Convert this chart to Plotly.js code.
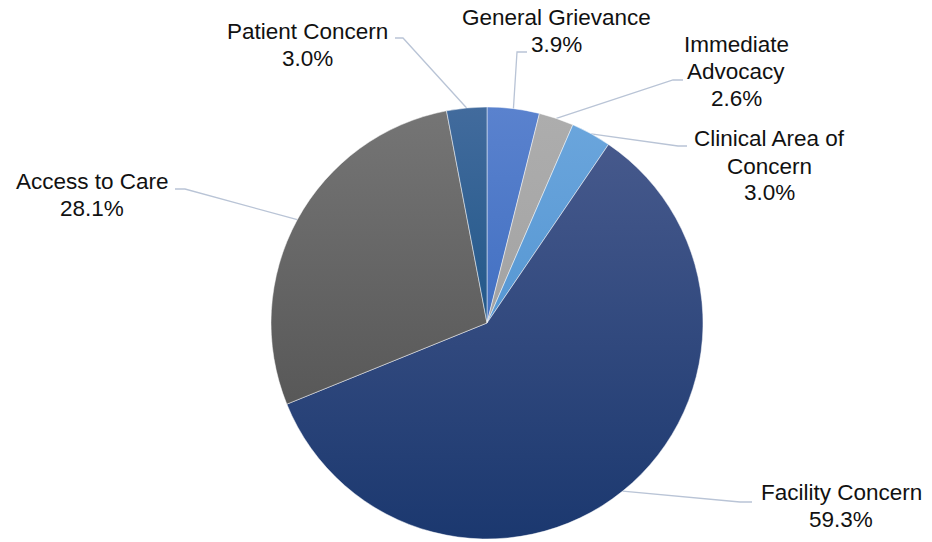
<!DOCTYPE html>
<html>
<head>
<meta charset="utf-8">
<script src="https://cdn.plot.ly/plotly-3.0.1.min.js"></script>
<style>html,body{margin:0;padding:0;background:#fff;}#chart{width:932px;height:542px;}</style>
</head>
<body>
<div id="chart"></div>
<script>
// ---- data ----
var categories = ["General Grievance", "Immediate Advocacy", "Clinical Area of Concern", "Facility Concern", "Access to Care", "Patient Concern"];
var values = [3.9, 2.6, 3.0, 59.3, 28.1, 3.0];
var labelLines = [["General Grievance"], ["Immediate", "Advocacy"], ["Clinical Area of", "Concern"], ["Facility Concern"], ["Access to Care"], ["Patient Concern"]];

// ---- styling ----
var W = 932, H = 542;
var cx = 487, cy = 323, R = 216;
var gradTop = ["#5A82CE", "#ADADAD", "#6AA5DC", "#46598C", "#757575", "#426B9D"];
var gradBot = ["#4270C2", "#A3A3A3", "#5697D3", "#1B386F", "#585858", "#225889"];
var flat = ["#4D78C8", "#A8A8A8", "#5F9ED7", "#2A457D", "#666666", "#305F94"];
// label first-line centres (px), line spacing, and leader-line label-side points (px)
var labelPos = [[556, 18], [736, 45], [769, 139], [841, 492], [92, 181], [307, 32]];
var lineGap = 27;
var leaderStart = [[[527, 52], [517, 52]], [[683, 80], [673, 80]], [[687, 146], [678, 146]], [[752, 502], [740, 502]], [[175, 189], [185, 189]], [[395, 38], [403, 38]]];

function px(x) { return x / W; }
function py(y) { return 1 - y / H; }

var total = values.reduce(function (a, b) { return a + b; }, 0);
var annotations = [], shapes = [];
var cum = 0;
for (var i = 0; i < values.length; i++) {
  var mid = (cum + values[i] / 2) / total * 2 * Math.PI;
  cum += values[i];
  var ex = cx + R * Math.sin(mid), ey = cy - R * Math.cos(mid);
  var lines = labelLines[i].concat([values[i].toFixed(1) + "%"]);
  for (var j = 0; j < lines.length; j++) {
    annotations.push({
      x: px(labelPos[i][0]), y: py(labelPos[i][1] + j * lineGap), xref: "paper", yref: "paper",
      xanchor: "center", yanchor: "middle", showarrow: false, align: "center",
      text: lines[j], font: {family: "Liberation Sans, Arial, sans-serif", size: 22.5, color: "#111111"}
    });
  }
  var p = leaderStart[i];
  shapes.push({
    type: "path", xref: "paper", yref: "paper", layer: "below",
    path: "M " + px(p[0][0]) + "," + py(p[0][1]) + " L " + px(p[1][0]) + "," + py(p[1][1]) + " L " + px(ex) + "," + py(ey),
    line: {color: "#B9C4D6", width: 1.3}
  });
}

var trace = {
  type: "pie",
  labels: categories,
  values: values,
  sort: false,
  direction: "clockwise",
  rotation: 0,
  textinfo: "none",
  hoverinfo: "label+percent",
  marker: {colors: flat, line: {color: "rgba(255,255,255,0.6)", width: 0.8}},
  domain: {x: [(cx - R) / W, (cx + R) / W], y: [1 - (cy + R) / H, 1 - (cy - R) / H]}
};

var layout = {
  width: W, height: H,
  margin: {l: 0, r: 0, t: 0, b: 0},
  paper_bgcolor: "#ffffff",
  showlegend: false,
  annotations: annotations,
  shapes: shapes
};

Plotly.newPlot("chart", [trace], layout, {displayModeBar: false, staticPlot: true}).then(function () {
  var svg = document.querySelector("#chart svg.main-svg");
  var ns = "http://www.w3.org/2000/svg";
  var defs = svg.querySelector("defs") || svg.insertBefore(document.createElementNS(ns, "defs"), svg.firstChild);
  for (var k = 0; k < values.length; k++) {
    var g = document.createElementNS(ns, "linearGradient");
    g.setAttribute("id", "sliceGrad" + k);
    g.setAttribute("x1", "0"); g.setAttribute("y1", "0");
    g.setAttribute("x2", "0"); g.setAttribute("y2", "1");
    var s1 = document.createElementNS(ns, "stop");
    s1.setAttribute("offset", "0"); s1.setAttribute("stop-color", gradTop[k]);
    var s2 = document.createElementNS(ns, "stop");
    s2.setAttribute("offset", "1"); s2.setAttribute("stop-color", gradBot[k]);
    g.appendChild(s1); g.appendChild(s2); defs.appendChild(g);
  }
  var paths = document.querySelectorAll("#chart g.slice path.surface");
  paths.forEach(function (el, k) { el.style.fill = "url(#sliceGrad" + k + ")"; });
});
</script>
</body>
</html>
